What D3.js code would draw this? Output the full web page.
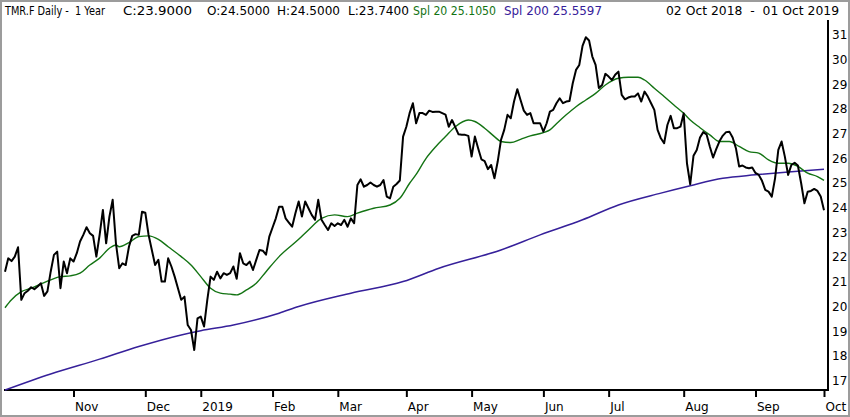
<!DOCTYPE html>
<html lang="en">
<head>
    <meta http-equiv="Content-Type" content="text/html; charset=UTF-8">
    <title>TMR.F Daily</title>
    <script type="text/javascript" src="https://d3js.org/d3.v7.min.js"></script>
    <style>
        body { margin: 0; background: #fff; }
        svg { display: block; font-family: "DejaVu Sans", sans-serif; }
    </style>
</head>
<body>

<svg id="visualization" width="850" height="417"></svg>

<script>

// daily closes, one per trading day, 02 Oct 2018 .. 01 Oct 2019
var closes = [
    21.41, 21.95, 21.84, 22.02, 22.40, 20.27, 20.54, 20.64, 20.78, 20.70,
    20.81, 20.94, 20.43, 20.61, 21.41, 22.09, 22.22, 20.74, 21.82, 21.35,
    21.95, 21.82, 22.16, 22.63, 22.90, 23.21, 22.97, 22.86, 22.02, 22.90,
    23.91, 22.56, 23.64, 24.32, 22.56, 21.55, 21.75, 21.68, 22.43, 22.86,
    22.93, 22.90, 23.84, 23.80, 22.90, 22.29, 21.68, 21.89, 21.01, 21.01,
    21.95, 21.62, 21.21, 20.74, 20.27, 20.40, 19.25, 19.05, 18.24, 19.52,
    19.59, 19.19, 20.27, 21.21, 21.08, 21.41, 21.14, 21.35, 21.28, 21.35,
    21.62, 21.12, 22.16, 21.75, 21.68, 21.82, 21.48, 21.89, 22.29, 22.26,
    22.10, 22.83, 23.20, 23.57, 24.04, 24.04, 23.57, 23.40, 23.23, 23.78,
    24.25, 23.64, 24.25, 23.98, 23.71, 23.51, 24.32, 23.51, 23.30, 23.10,
    23.37, 23.26, 23.37, 23.30, 23.51, 23.23, 23.57, 23.37, 24.92, 25.15,
    24.85, 24.92, 25.02, 24.92, 24.85, 24.92, 25.12, 24.45, 24.38, 24.85,
    24.96, 25.10, 26.88, 27.28, 27.83, 28.23, 27.42, 27.83, 27.83, 27.76,
    27.93, 27.88, 27.89, 27.89, 27.83, 27.77, 27.28, 27.55, 27.26, 26.97,
    26.95, 26.95, 26.91, 26.07, 26.88, 26.41, 25.96, 25.89, 25.56, 25.73,
    25.19, 25.87, 26.74, 27.15, 27.76, 27.62, 28.30, 28.80, 28.36, 27.93,
    27.76, 27.83, 27.42, 27.42, 27.42, 27.08, 27.42, 27.89, 27.96, 28.23,
    28.43, 28.23, 28.30, 28.32, 29.04, 29.58, 29.78, 30.55, 30.90, 30.77,
    30.12, 29.78, 28.85, 28.97, 29.42, 29.31, 29.17, 29.38, 29.51, 28.57,
    28.39, 28.46, 28.50, 28.50, 28.63, 28.30, 28.70, 28.50, 28.23, 27.96,
    27.15, 26.81, 26.61, 27.35, 27.72, 27.22, 27.22, 27.28, 27.82, 25.80,
    24.95, 26.10, 26.34, 26.84, 27.06, 26.97, 26.48, 26.03, 26.38, 26.70,
    26.92, 27.06, 27.08, 26.84, 26.41, 25.67, 25.71, 25.63, 25.60, 25.63,
    25.41, 25.33, 25.09, 24.72, 24.65, 24.45, 25.19, 26.34, 26.68, 26.07,
    25.33, 25.73, 25.82, 25.71, 24.99, 24.18, 24.65, 24.68, 24.76, 24.68,
    24.45, 23.90
];

var spl20Days = [0, 2, 5, 8, 11, 14, 17, 20, 23, 26, 29, 32, 34, 35, 38, 41, 44, 47, 50, 54,
                 57, 60, 63, 66, 69, 71, 74, 77, 80, 84, 90, 93, 97, 101, 105, 108, 113, 118, 121, 124,
                 126, 129, 132, 135, 138, 142, 144, 147, 150, 152, 155, 158, 161, 165, 167, 169, 172, 175, 178, 181,
                 184, 188, 191, 194, 196, 199, 202, 205, 208, 210, 213, 216, 219, 222, 225, 228, 231, 234, 237, 240,
                 243, 246, 249, 251];
var spl20Vals = [19.95, 20.27, 20.60, 20.74, 20.91, 21.08, 21.21, 21.24, 21.35, 21.68, 21.96, 22.36, 22.49, 22.42, 22.59, 22.83, 22.86, 22.72, 22.42, 22.02,
                 21.68, 21.21, 20.74, 20.54, 20.50, 20.47, 20.67, 20.94, 21.41, 22.02, 22.72, 23.10, 23.57, 23.71, 23.64, 23.78, 23.98, 24.11, 24.38, 24.99,
                 25.35, 25.99, 26.47, 26.88, 27.28, 27.55, 27.49, 27.22, 26.88, 26.68, 26.64, 26.77, 26.91, 27.04, 27.15, 27.40, 27.76, 28.09, 28.36, 28.63,
                 28.97, 29.24, 29.28, 29.28, 29.17, 28.84, 28.50, 28.16, 27.82, 27.55, 27.24, 26.95, 26.68, 26.68, 26.48, 26.27, 26.21, 25.94, 25.80, 25.80,
                 25.67, 25.40, 25.26, 25.105];

// Spl 200 (purple)
var spl200Days = [0, 14, 29, 41, 54, 60, 70, 84, 90, 106, 122, 133, 152, 164, 177, 188, 201, 210, 220, 230, 241, 251];
var spl200Vals = [16.62, 17.27, 17.87, 18.38, 18.85, 19.02, 19.25, 19.73, 20.00, 20.54, 21.01, 21.55, 22.29, 22.90, 23.51, 24.11, 24.59, 24.89, 25.19, 25.33, 25.46, 25.5597];

// month ticks (trading-day index of first session in the month)
var monthIdx    = [21, 43, 60, 82, 102, 123, 143, 165, 185, 208, 230, 251];
var monthLabels = ["Nov", "Dec", "2019", "Feb", "Mar", "Apr", "May", "Jun", "Jul", "Aug", "Sep", "Oct"];

var priceTicks = [17, 18, 19, 20, 21, 22, 23, 24, 25, 26, 27, 28, 29, 30, 31];

var GREEN  = "#137313";
var PURPLE = "#36209a";

function CreateChart()
{
    var vis = d3.select("#visualization");

    var x = d3.scaleLinear().domain([0, closes.length - 1]).range([5, 824]);
    var y = d3.scaleLinear().domain([16.62, 31.6]).range([390, 20]);

    // window frame
    vis.append("rect")
        .attr("x", 1).attr("y", 1)
        .attr("width", 848).attr("height", 415)
        .attr("fill", "none")
        .attr("stroke", "#9c9c9c")
        .attr("stroke-width", 2);

    // header, each piece squeezed to the width it has in the original
    var head = [
        { t: "TMR.F Daily -  1 Year",        x: 5,   w: 100, c: "#000", a: "start" },
        { t: "C:23.9000",                    x: 123, w: 69,  c: "#000", a: "start" },
        { t: "O:24.5000",                    x: 207, w: 63,  c: "#000", a: "start" },
        { t: "H:24.5000",                    x: 277, w: 63,  c: "#000", a: "start" },
        { t: "L:23.7400",                    x: 348, w: 61,  c: "#000", a: "start" },
        { t: "Spl 20 25.1050",               x: 413, w: 83,  c: GREEN,  a: "start" },
        { t: "Spl 200 25.5597",              x: 504, w: 98,  c: PURPLE, a: "start" },
        { t: "02 Oct 2018  -  01 Oct 2019",  x: 666, w: 173, c: "#000", a: "start" }
    ];
    vis.selectAll("text.head").data(head).enter()
        .append("text")
        .attr("class", "head")
        .attr("x", function (d) { return d.x; })
        .attr("y", 15)
        .attr("font-size", 12)
        .attr("fill", function (d) { return d.c; })
        .attr("textLength", function (d) { return d.w; })
        .attr("lengthAdjust", "spacingAndGlyphs")
        .style("white-space", "pre")
        .text(function (d) { return d.t; });

    // y axis on the right
    var yAxis = d3.axisRight(y).tickValues(priceTicks).tickSize(0).tickPadding(4).tickFormat(d3.format("d"));
    var gy = vis.append("g").attr("transform", "translate(828,0)").call(yAxis);
    gy.select(".domain").remove();
    gy.selectAll("text").attr("font-size", 12).attr("font-family", "DejaVu Sans").attr("fill", "#000");

    // x axis
    var xAxis = d3.axisBottom(x).tickValues(monthIdx).tickSize(7).tickSizeOuter(0)
        .tickFormat(function (d, i) { return monthLabels[i]; });
    var gx = vis.append("g").attr("transform", "translate(0,390)").call(xAxis);
    gx.select(".domain").remove();
    gx.selectAll(".tick line").attr("stroke", "#000").attr("stroke-width", 2);
    gx.selectAll(".tick text")
        .attr("font-size", 12).attr("font-family", "DejaVu Sans").attr("fill", "#000")
        .attr("text-anchor", "start")
        .attr("x", 1).attr("y", 12).attr("dy", "0.71em");

    // plot border lines (bottom + right)
    vis.append("path")
        .attr("d", "M4,390H828V20")
        .attr("fill", "none")
        .attr("stroke", "#000")
        .attr("stroke-width", 2);

    // spline lines
    var spline = d3.line()
        .x(function (d) { return x(d[0]); })
        .y(function (d) { return y(d[1]); })
        .curve(d3.curveMonotoneX);

    vis.append("path")
        .datum(d3.zip(spl200Days, spl200Vals))
        .attr("d", spline)
        .attr("fill", "none")
        .attr("stroke", PURPLE)
        .attr("stroke-width", 1.5);

    vis.append("path")
        .datum(d3.zip(spl20Days, spl20Vals))
        .attr("d", spline)
        .attr("fill", "none")
        .attr("stroke", GREEN)
        .attr("stroke-width", 1.4);

    // price line
    var priceLine = d3.line()
        .x(function (d, i) { return x(i); })
        .y(function (d) { return y(d); });

    vis.append("path")
        .datum(closes)
        .attr("d", priceLine)
        .attr("fill", "none")
        .attr("stroke", "#000")
        .attr("stroke-width", 2)
        .attr("stroke-linejoin", "round");
}

CreateChart();

</script>
</body>
</html>
